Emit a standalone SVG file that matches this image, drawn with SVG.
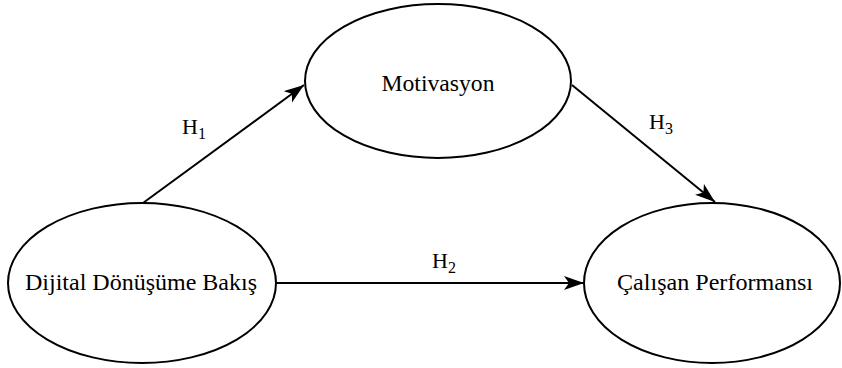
<svg xmlns="http://www.w3.org/2000/svg" width="842" height="368" viewBox="0 0 842 368">
<style>
.node{fill:#fff;stroke:#000;stroke-width:2}
.lbl{font-family:"Liberation Serif","Times New Roman",serif;font-size:24px;fill:#000}
.h{font-family:"Liberation Serif","Times New Roman",serif;font-size:22px;fill:#000}
.sub{font-size:16px}
.conn{stroke:#000;stroke-width:2;fill:none;marker-end:url(#arr)}
</style>
<defs>
<marker id="arr" markerUnits="userSpaceOnUse" markerWidth="22" markerHeight="16" refX="20" refY="7" orient="auto">
<path d="M0,0 L20,7 L0,14 L5,7 z" fill="#000"/>
</marker>
</defs>
<rect width="842" height="368" fill="#fff"/>
<g id="connectors">
<line class="conn" x1="143" y1="203" x2="304" y2="85"/>
<line class="conn" x1="572" y1="85" x2="715" y2="202"/>
<line class="conn" x1="277" y1="283" x2="584" y2="283"/>
<text class="h" x="182" y="134">H<tspan class="sub" dy="5">1</tspan></text>
<text class="h" x="649" y="129">H<tspan class="sub" dy="5">3</tspan></text>
<text class="h" x="432" y="268">H<tspan class="sub" dy="5">2</tspan></text>
</g>
<g id="motivasyon">
<ellipse class="node" cx="438" cy="81" rx="133" ry="77"/>
<text class="lbl" x="438" y="91" text-anchor="middle" textLength="113" lengthAdjust="spacingAndGlyphs">Motivasyon</text>
</g>
<g id="dijital">
<ellipse class="node" cx="142" cy="283" rx="134" ry="80"/>
<text class="lbl" x="141" y="290" text-anchor="middle" textLength="232" lengthAdjust="spacingAndGlyphs">Dijital Dönüşüme Bakış</text>
</g>
<g id="calisan">
<ellipse class="node" cx="712" cy="283" rx="128" ry="80"/>
<text class="lbl" x="715" y="290" text-anchor="middle" textLength="196" lengthAdjust="spacingAndGlyphs">Çalışan Performansı</text>
</g>
</svg>
